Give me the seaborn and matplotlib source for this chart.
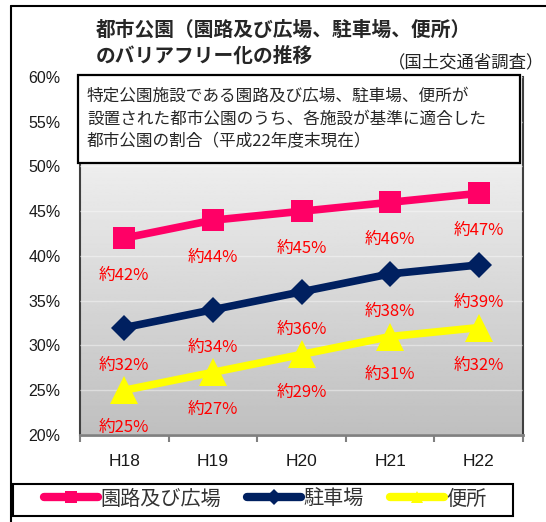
#!/usr/bin/env python3
# -*- coding: utf-8 -*-
"""Barrier-free progress of city parks (MLIT survey), H18-H22."""

import numpy as np
import pandas as pd
import seaborn as sns
import matplotlib.pyplot as plt
from matplotlib.lines import Line2D
from matplotlib.patches import Rectangle

# %% Data

lst_years = ['H18', 'H19', 'H20', 'H21', 'H22']
lst_paths = [42, 44, 45, 46, 47]      # 園路及び広場
lst_parking = [32, 34, 36, 38, 39]    # 駐車場
lst_toilet = [25, 27, 29, 31, 32]     # 便所
lst_names = ['園路及び広場', '駐車場', '便所']
lst_yticks = [20, 25, 30, 35, 40, 45, 50, 55, 60]

lst_colors = ['#ff0066', '#002060', '#ffff00']
lst_markers = ['s', 'D', '^']
lst_msize = [16, 13, 20]

# %% Set up

sns.set_theme(style='white')
plt.rcParams['font.family'] = ['Noto Sans CJK JP', 'DejaVu Sans']

W, H = 546, 522


def fx(x):
    return x / W


def fy(y):
    return 1 - y / H


fig = plt.figure(figsize=(W / 100, H / 100), dpi=100)
ax = fig.add_axes([fx(80), fy(435), (523 - 80) / W, (435 - 77) / H])

# gradient plot background
ax.imshow(np.linspace(0.99, 0.75, 256).reshape(-1, 1), cmap='gray',
          vmin=0, vmax=1, extent=(-0.5, 4.5, 20, 60), aspect='auto',
          zorder=0)

df = pd.DataFrame({'year': lst_years, lst_names[0]: lst_paths,
                   lst_names[1]: lst_parking, lst_names[2]: lst_toilet})

for ind, name in enumerate(lst_names):
    sns.lineplot(data=df, x='year', y=name, ax=ax, color=lst_colors[ind],
                 marker=lst_markers[ind], markersize=lst_msize[ind],
                 markeredgewidth=0, linewidth=5.5, zorder=3, legend=False)
    for xi, val in enumerate(df[name]):
        ax.annotate('約%d%%' % val, (xi, val), xytext=(0, -27),
                    textcoords='offset points', ha='center', va='center',
                    color='#ff0000', fontsize=12, zorder=4)

ax.set_xlim(-0.5, 4.5)
ax.set_ylim(20, 60)
ax.set_yticks(lst_yticks)
ax.set_yticklabels(['%d%%' % v for v in lst_yticks], family='Liberation Sans',
                   fontsize=11.5, color='#1a1a1a')
ax.set_xticks(range(len(lst_years)))
ax.set_xticklabels(lst_years, family='Liberation Sans', fontsize=12.5,
                   color='#1a1a1a')
ax.set_xticks(np.arange(-0.5, 5, 1), minor=True)
ax.tick_params(axis='x', which='major', length=0, pad=14)
ax.tick_params(axis='x', which='minor', length=5, width=1.5,
               color='#808080', bottom=True)
ax.tick_params(axis='y', length=0, pad=14)
ax.set_xlabel('')
ax.set_ylabel('')
ax.yaxis.grid(True, color='white', alpha=0.4, lw=1)
ax.set_axisbelow(False)
for s in ['left', 'right']:
    ax.spines[s].set_color('#404040')
    ax.spines[s].set_linewidth(1.5)
ax.spines['bottom'].set_color('#808080')
ax.spines['bottom'].set_linewidth(2)
ax.spines['top'].set_visible(False)

# %% Titles and note box

fig.text(fx(96), fy(30), '都市公園（園路及び広場、駐車場、便所）',
         fontsize=14.2, fontweight='bold', va='center')
fig.text(fx(96), fy(56), 'のバリアフリー化の推移',
         fontsize=14.2, fontweight='bold', va='center')
fig.text(fx(544), fy(62), '（国土交通省調査）', fontsize=12.5,
         ha='right', va='center', color='#222222')

fig.add_artist(Rectangle((fx(78), fy(163)), (520 - 78) / W, (163 - 75) / H,
                         transform=fig.transFigure, fc='white', ec='black',
                         lw=1.6, zorder=5))
fig.text(fx(87), fy(119),
         '特定公園施設である園路及び広場、駐車場、便所が\n'
         '設置された都市公園のうち、各施設が基準に適合した\n'
         '都市公園の割合（平成22年度末現在）',
         fontsize=12, va='center', linespacing=1.45, zorder=6)

# outer frame
fig.add_artist(Line2D([fx(11), fx(11)], [fy(6), 0], color='black', lw=1.5))
fig.add_artist(Line2D([fx(11), 1], [fy(6), fy(6)], color='black', lw=1.5))

# %% Legend

fig.add_artist(Rectangle((fx(13), fy(516)), 500 / W, 32 / H,
                         transform=fig.transFigure, fc='white', ec='black',
                         lw=1.5))
lst_handles = [Line2D([], [], color=lst_colors[ind], lw=6,
                      solid_capstyle='round', marker=lst_markers[ind],
                      markersize=8, markeredgewidth=0)
               for ind in range(3)]
leg = fig.legend(lst_handles, lst_names, loc='center', ncol=3,
                 bbox_to_anchor=(fx(265), fy(499)), fontsize=14.5,
                 handlelength=2.7, handletextpad=0.1, columnspacing=1.3,
                 frameon=False, borderpad=0)
for txt in leg.get_texts():
    txt.set_color('#333333')

fig.savefig('out.png', dpi=100)
